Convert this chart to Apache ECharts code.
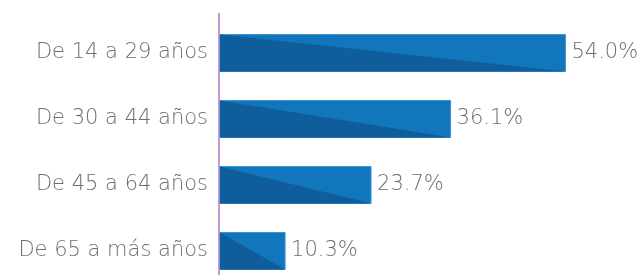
<!DOCTYPE html>
<html>
<head>
    <meta charset="UTF-8">
    <title>Grupos de edad</title>
</head>
<body>
    <div id="_Echart"></div>
</body>
<style type="text/css">
    html,body{margin:0;padding:0;background:#fff;}
    div{height:275px;width:644px;}
</style>
<script type="text/javascript" src="https://cdn.jsdelivr.net/npm/echarts@6/dist/echarts.min.js"></script>
<script type="text/javascript">
var chart = echarts.init(document.getElementById('_Echart'));

var categories = ['De 14 a 29 años', 'De 30 a 44 años', 'De 45 a 64 años', 'De 65 a más años'];
var values = [54.0, 36.1, 23.7, 10.3];

var FONT = '"DejaVu Sans", sans-serif';

// barra con triangulo oscuro abajo-izquierda
function renderBar(params, api) {
    var val = api.value(0), cat = api.value(1);
    var start = api.coord([0, cat]);
    var end = api.coord([val, cat]);
    var h = api.size([0, 1])[1] * 0.56;
    var x0 = start[0] + 1, x1 = end[0];
    var yt = start[1] - h / 2, yb = start[1] + h / 2;
    return {
        type: 'group',
        children: [
            { type: 'rect', shape: { x: x0, y: yt, width: x1 - x0, height: h },
              style: { fill: '#1176bc', stroke: '#3b93d4', lineWidth: 1 } },
            { type: 'polygon', shape: { points: [[x0, yt], [x1, yb], [x0, yb]] },
              style: { fill: '#0f5e9b' } },
            { type: 'text', x: x1 + 6, y: start[1],
              style: { text: val.toFixed(1) + '%', fill: '#6e6e6e', font: '200 21px ' + FONT,
                       verticalAlign: 'middle', align: 'left' } }
        ]
    };
}

var option = {
    animation: false,
    grid: { left: 219, right: 8, top: 20, height: 264, outerBoundsMode: 'none', containLabel: false },
    xAxis: { type: 'value', min: 0, max: 65, show: false },
    yAxis: {
        type: 'category', inverse: true, data: categories,
        axisLine: { show: true, symbol: ['rect', 'rect'], symbolSize: [2, 14],
                    lineStyle: { color: '#c49ad6', width: 2 } },
        axisTick: { show: false },
        axisLabel: { color: '#6e6e6e', fontSize: 21, fontWeight: 200, fontFamily: FONT, margin: 11 }
    },
    series: [{
        type: 'custom',
        renderItem: renderBar,
        encode: { x: 0, y: 1 },
        data: values.map(function (v, i) { return [v, i]; })
    }]
};
chart.setOption(option);
</script>
</html>
